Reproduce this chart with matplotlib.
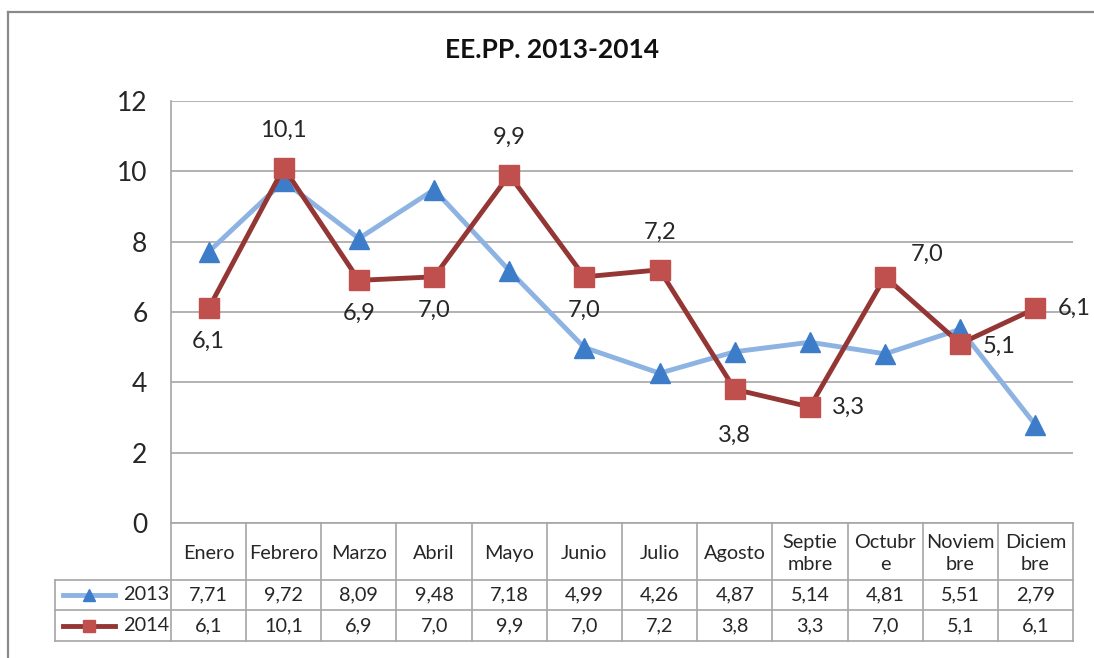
import numpy as np
import matplotlib
matplotlib.use("Agg")
import matplotlib.pyplot as plt
from matplotlib.lines import Line2D

plt.rcParams["font.family"] = ["Lato", "DejaVu Sans"]

# data
months = ["Enero", "Febrero", "Marzo", "Abril", "Mayo", "Junio", "Julio",
          "Agosto", "Septie\nmbre", "Octubr\ne", "Noviem\nbre", "Diciem\nbre"]
vals_2013 = [7.71, 9.72, 8.09, 9.48, 7.18, 4.99, 4.26, 4.87, 5.14, 4.81, 5.51, 2.79]
vals_2014 = [6.1, 10.1, 6.9, 7.0, 9.9, 7.0, 7.2, 3.8, 3.3, 7.0, 5.1, 6.1]
labels_2013 = ["7,71", "9,72", "8,09", "9,48", "7,18", "4,99", "4,26", "4,87", "5,14", "4,81", "5,51", "2,79"]
labels_2014 = ["6,1", "10,1", "6,9", "7,0", "9,9", "7,0", "7,2", "3,8", "3,3", "7,0", "5,1", "6,1"]
yticks = [0, 2, 4, 6, 8, 10, 12]

# label offsets (points) for the 2014 data labels
label_offsets = [(0, -24), (0, 27), (0, -24), (0, -24), (0, 27), (0, -24),
                 (0, 27), (0, -33), (28, 0), (30, 16), (28, -2), (28, 0)]

W, H = 1094, 658
fig = plt.figure(figsize=(W / 100, H / 100), dpi=100)
fig.patch.set_facecolor("white")


def fx(px):
    return px / W


def fy(py):
    return 1 - py / H


grid_c = "#a6a6a6"
txt_c = "#262626"
c13_line, c13_mark = "#8db3e2", "#3d7cc9"
c14_line, c14_mark = "#943634", "#c0504d"

# outer chart frame
fig.add_artist(Line2D([fx(8), fx(8)], [fy(12), 0], color="#8a8a8a", lw=1.6))
fig.add_artist(Line2D([fx(8), 1], [fy(12), fy(12)], color="#8a8a8a", lw=1.6))

L, R, T, B = 171, 1073, 101, 523
ax = fig.add_axes([fx(L), fy(B), fx(R - L), (B - T) / H])
x = np.arange(len(months))
ax.set_xlim(-0.5, len(months) - 0.5)
ax.set_ylim(0, 12)
ax.set_yticks(yticks)
ax.set_yticklabels([str(t) for t in yticks], fontsize=19, color=txt_c)
ax.tick_params(axis="y", length=0, pad=17)
ax.set_xticks([])
ax.yaxis.grid(True, color=grid_c, lw=1.2)
ax.set_axisbelow(True)
for s in ["top", "right", "bottom"]:
    ax.spines[s].set_visible(False)
ax.spines["left"].set_color(grid_c)
ax.spines["left"].set_linewidth(1.2)

ax.plot(x, vals_2013, color=c13_line, lw=3.5, marker="^", ms=15,
        mfc=c13_mark, mec=c13_mark, zorder=3)
ax.plot(x, vals_2014, color=c14_line, lw=3.5, marker="s", ms=14,
        mfc=c14_mark, mec=c14_mark, zorder=4)

for xi, v, lab, off in zip(x, vals_2014, labels_2014, label_offsets):
    ax.annotate(lab, (xi, v), xytext=off, textcoords="offset points",
                ha="center", va="center", fontsize=17, color=txt_c)

fig.text(0.505, fy(50), "EE.PP. 2013-2014", ha="center", va="center",
         fontsize=19, fontweight="bold", color="#111111")

# data table below the plot area
tb_top, tb_bot = 523, 641
tax = fig.add_axes([fx(L), fy(tb_bot), fx(R - L), (tb_bot - tb_top) / H])
tax.set_xlim(-0.5, len(months) - 0.5)
tax.set_ylim(tb_bot - tb_top, 0)
tax.axis("off")
r1, r2, r3 = 57, 87, 118
legend_left = -0.5 - (L - 55) / ((R - L) / len(months))
lk = dict(color=grid_c, lw=1.2, clip_on=False)
tax.plot([-0.5, 11.5], [0, 0], **lk)
for yy in [r1, r2, r3]:
    tax.plot([legend_left, 11.5], [yy, yy], **lk)
for xb in np.arange(len(months) + 1) - 0.5:
    tax.plot([xb, xb], [0, r3], **lk)
tax.plot([legend_left, legend_left], [r1, r3], **lk)

fs_tab = 14.3
for xi, m in zip(x, months):
    tax.text(xi, r1 / 2 + 2, m, ha="center", va="center", fontsize=fs_tab,
             color=txt_c, linespacing=1.3)
for xi, a, b in zip(x, labels_2013, labels_2014):
    tax.text(xi, (r1 + r2) / 2, a, ha="center", va="center", fontsize=fs_tab, color=txt_c)
    tax.text(xi, (r2 + r3) / 2, b, ha="center", va="center", fontsize=fs_tab, color=txt_c)

# legend keys in the table
for yy, name, lc, mc, mk, ms in [((r1 + r2) / 2, "2013", c13_line, c13_mark, "^", 9),
                                 ((r2 + r3) / 2, "2014", c14_line, c14_mark, "s", 9)]:
    tax.plot([legend_left + 0.1, legend_left + 0.8], [yy, yy], color=lc, lw=3.5, clip_on=False)
    tax.plot([legend_left + 0.45], [yy], marker=mk, ms=ms, color=mc, clip_on=False)
    tax.text(-0.53, yy, name, ha="right", va="center", fontsize=fs_tab, color=txt_c)

fig.savefig("out.png", dpi=100, facecolor="white")
